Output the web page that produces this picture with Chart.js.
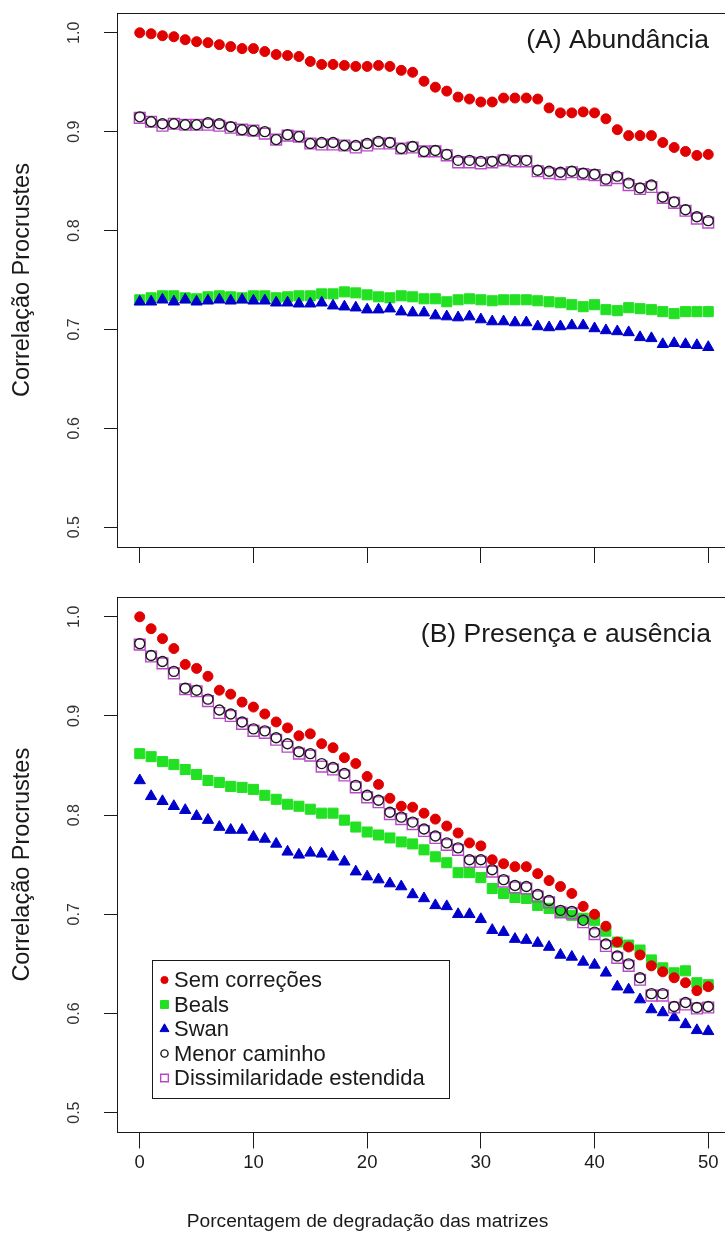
<!DOCTYPE html>
<html>
<head>
<meta charset="utf-8">
<script src="https://cdn.jsdelivr.net/npm/chart.js@4.4.1/dist/chart.umd.min.js"></script>
<style>
  html, body { margin: 0; padding: 0; background: #fff; overflow: hidden; width: 725px; height: 1241px; }
  #wrap { position: relative; width: 725px; height: 1241px; overflow: hidden; }
  #cA { position: absolute; left: 0; top: 0; }
  #cB { position: absolute; left: 0; top: 580px; }
</style>
</head>
<body>
<div id="wrap">
  <canvas id="cA" width="740" height="580"></canvas>
  <canvas id="cB" width="740" height="661"></canvas>
</div>
<script>
// Percentage of degradation applied to the matrices (x axis)
const degradacao = [0, 1, 2, 3, 4, 5, 6, 7, 8, 9, 10, 11, 12, 13, 14, 15, 16, 17, 18, 19, 20,
  21, 22, 23, 24, 25, 26, 27, 28, 29, 30, 31, 32, 33, 34, 35, 36, 37, 38, 39, 40,
  41, 42, 43, 44, 45, 46, 47, 48, 49, 50];

const xTicks = [0, 10, 20, 30, 40, 50];
const yTicks = [0.5, 0.6, 0.7, 0.8, 0.9, 1.0];

const seriesNames = ['Sem correções', 'Beals', 'Swan', 'Menor caminho', 'Dissimilaridade estendida'];

// (A) Abundance data
const abundSem = [1.000, 0.999, 0.997, 0.996, 0.993, 0.991, 0.990, 0.988, 0.986, 0.984,
  0.984, 0.981, 0.978, 0.977, 0.976, 0.971, 0.968, 0.968, 0.967, 0.966,
  0.966, 0.967, 0.966, 0.962, 0.960, 0.951, 0.945, 0.941, 0.935, 0.933,
  0.930, 0.930, 0.934, 0.934, 0.934, 0.933, 0.924, 0.919, 0.919, 0.920,
  0.919, 0.913, 0.902, 0.896, 0.896, 0.896, 0.889, 0.884, 0.880, 0.876, 0.877];
const abundBeals = [0.730, 0.732, 0.734, 0.734, 0.732, 0.731, 0.733, 0.734, 0.733, 0.732,
  0.734, 0.734, 0.732, 0.733, 0.734, 0.734, 0.736, 0.736, 0.738, 0.737,
  0.735, 0.733, 0.732, 0.734, 0.733, 0.731, 0.731, 0.728, 0.730, 0.731,
  0.730, 0.729, 0.730, 0.730, 0.730, 0.729, 0.728, 0.727, 0.725, 0.723,
  0.725, 0.720, 0.719, 0.722, 0.721, 0.720, 0.718, 0.716, 0.718, 0.718, 0.718];
const abundSwan = [0.728, 0.728, 0.730, 0.728, 0.730, 0.728, 0.729, 0.730, 0.729, 0.730,
  0.729, 0.729, 0.727, 0.727, 0.726, 0.726, 0.727, 0.724, 0.723, 0.722,
  0.720, 0.720, 0.721, 0.718, 0.717, 0.717, 0.714, 0.713, 0.712, 0.713,
  0.710, 0.708, 0.708, 0.707, 0.707, 0.703, 0.702, 0.703, 0.704, 0.704,
  0.701, 0.699, 0.698, 0.697, 0.692, 0.691, 0.685, 0.686, 0.685, 0.684, 0.682];
const abundMenor = [0.915, 0.910, 0.908, 0.908, 0.907, 0.907, 0.909, 0.908, 0.905, 0.902,
  0.901, 0.900, 0.892, 0.897, 0.895, 0.888, 0.889, 0.889, 0.886, 0.886,
  0.888, 0.890, 0.889, 0.883, 0.885, 0.880, 0.881, 0.877, 0.871, 0.871,
  0.870, 0.870, 0.872, 0.871, 0.871, 0.861, 0.860, 0.859, 0.860, 0.858,
  0.857, 0.852, 0.855, 0.848, 0.843, 0.846, 0.834, 0.829, 0.821, 0.814, 0.810];
const abundDiss = [0.914, 0.910, 0.906, 0.908, 0.907, 0.907, 0.907, 0.906, 0.904, 0.902,
  0.901, 0.898, 0.892, 0.896, 0.895, 0.888, 0.887, 0.887, 0.886, 0.884,
  0.886, 0.888, 0.888, 0.883, 0.884, 0.880, 0.880, 0.876, 0.869, 0.869,
  0.868, 0.869, 0.871, 0.870, 0.870, 0.860, 0.858, 0.857, 0.859, 0.857,
  0.856, 0.851, 0.853, 0.846, 0.842, 0.844, 0.833, 0.828, 0.820, 0.812, 0.808];

// (B) Presence/absence data
const paSem = [1.000, 0.988, 0.978, 0.968, 0.952, 0.948, 0.940, 0.926, 0.922, 0.914,
  0.909, 0.902, 0.894, 0.888, 0.880, 0.882, 0.872, 0.868, 0.858, 0.852,
  0.839, 0.831, 0.817, 0.809, 0.808, 0.802, 0.796, 0.789, 0.782, 0.772,
  0.769, 0.755, 0.751, 0.748, 0.748, 0.741, 0.734, 0.728, 0.721, 0.708,
  0.700, 0.688, 0.672, 0.667, 0.659, 0.648, 0.642, 0.636, 0.631, 0.623, 0.627];
const paBeals = [0.862, 0.859, 0.854, 0.851, 0.846, 0.841, 0.835, 0.833, 0.829, 0.828,
  0.826, 0.820, 0.816, 0.811, 0.809, 0.806, 0.802, 0.802, 0.795, 0.788,
  0.783, 0.780, 0.777, 0.773, 0.771, 0.765, 0.758, 0.752, 0.742, 0.742,
  0.737, 0.726, 0.721, 0.717, 0.716, 0.709, 0.706, 0.702, 0.699, 0.696,
  0.694, 0.683, 0.672, 0.669, 0.664, 0.654, 0.646, 0.641, 0.643, 0.631, 0.629];
const paSwan = [0.835, 0.819, 0.814, 0.809, 0.805, 0.799, 0.795, 0.788, 0.785, 0.785,
  0.778, 0.776, 0.771, 0.763, 0.760, 0.762, 0.761, 0.758, 0.753, 0.743,
  0.738, 0.735, 0.731, 0.728, 0.720, 0.716, 0.709, 0.708, 0.700, 0.700,
  0.695, 0.684, 0.682, 0.675, 0.674, 0.671, 0.667, 0.659, 0.657, 0.652,
  0.649, 0.641, 0.627, 0.624, 0.614, 0.604, 0.601, 0.596, 0.589, 0.583, 0.582];
const paMenor = [0.973, 0.961, 0.955, 0.945, 0.928, 0.926, 0.917, 0.906, 0.902, 0.894,
  0.887, 0.885, 0.878, 0.872, 0.864, 0.862, 0.852, 0.848, 0.842, 0.830,
  0.820, 0.815, 0.803, 0.798, 0.793, 0.786, 0.779, 0.772, 0.767, 0.755,
  0.755, 0.745, 0.735, 0.729, 0.728, 0.720, 0.714, 0.704, 0.703, 0.694,
  0.682, 0.670, 0.658, 0.650, 0.636, 0.620, 0.620, 0.607, 0.611, 0.606, 0.607];
const paDiss = [0.972, 0.960, 0.953, 0.943, 0.927, 0.925, 0.915, 0.903, 0.900, 0.892,
  0.885, 0.883, 0.876, 0.869, 0.862, 0.860, 0.849, 0.846, 0.840, 0.828,
  0.818, 0.813, 0.801, 0.796, 0.791, 0.784, 0.777, 0.770, 0.765, 0.753,
  0.753, 0.743, 0.733, 0.727, 0.726, 0.718, 0.712, 0.702, 0.701, 0.692,
  0.680, 0.668, 0.656, 0.648, 0.634, 0.618, 0.618, 0.606, 0.609, 0.605, 0.606];

const FONT = "'Liberation Sans', Arial, Helvetica, sans-serif";
const INK = '#1a1a1a';
Chart.defaults.font.family = FONT;

// Marker style for each method (plot size and a smaller legend size)
const markerStyles = [
  { pointStyle: 'circle',   pointRadius: 5,   legendRadius: 3.6, fill: '#e00000',          stroke: '#e00000', width: 1,   order: 0 },
  { pointStyle: 'rect',     pointRadius: 7.1, legendRadius: 5.6, fill: '#22e022',          stroke: '#22e022', width: 1,   order: 4 },
  { pointStyle: 'triangle', pointRadius: 6.5, legendRadius: 5.2, fill: '#0000cc',          stroke: '#0000cc', width: 1,   order: 3 },
  { pointStyle: 'circle',   pointRadius: 5,   legendRadius: 3.6, fill: 'rgba(0,0,0,0)',    stroke: '#1a1a1a', width: 1.4, order: 1 },
  { pointStyle: 'rect',     pointRadius: 7.6, legendRadius: 5.4, fill: 'rgba(0,0,0,0)',    stroke: '#b848c8', width: 1.4, order: 2 }
];

function makeDatasets(valueLists) {
  return valueLists.map((values, k) => {
    const st = markerStyles[k];
    return {
      label: seriesNames[k],
      data: degradacao.map((x, i) => ({ x: x, y: values[i] })),
      showLine: false,
      order: st.order,
      pointStyle: st.pointStyle,
      pointRadius: st.pointRadius,
      pointHoverRadius: st.pointRadius,
      pointBackgroundColor: st.fill,
      pointBorderColor: st.stroke,
      pointBorderWidth: st.width,
      backgroundColor: st.fill,
      borderColor: st.stroke,
      legendRadius: st.legendRadius
    };
  });
}

// Box around the plotting region
const framePlugin = {
  id: 'frame',
  afterDraw(chart) {
    const { ctx, chartArea: a } = chart;
    ctx.save();
    ctx.strokeStyle = INK;
    ctx.lineWidth = 1;
    ctx.strokeRect(Math.round(a.left) + 0.5, Math.round(a.top) + 0.5,
      Math.round(a.right - a.left), Math.round(a.bottom - a.top));
    ctx.restore();
  }
};

function panelLabel(text, dx, dy) {
  return {
    id: 'panelLabel',
    afterDraw(chart) {
      const { ctx, chartArea: a } = chart;
      ctx.save();
      ctx.font = '26.5px ' + FONT;
      ctx.fillStyle = INK;
      ctx.textAlign = 'right';
      ctx.textBaseline = 'middle';
      ctx.fillText(text, a.right + dx, a.top + dy);
      ctx.restore();
    }
  };
}

// Boxed legend inside the lower-left of the plotting region
const boxLegend = {
  id: 'boxLegend',
  afterDraw(chart) {
    const { ctx, chartArea: a } = chart;
    const left = Math.round(a.left + 35), bottom = Math.round(a.bottom - 34.5);
    const w = 297, h = 138, top = bottom - h;
    ctx.save();
    ctx.strokeStyle = INK;
    ctx.lineWidth = 1;
    ctx.strokeRect(left + 0.5, top + 0.5, w, h);
    ctx.font = '22px ' + FONT;
    ctx.textBaseline = 'middle';
    ctx.textAlign = 'left';
    chart.data.datasets.forEach((ds, i) => {
      const y = top + 20 + i * 24.5;
      ctx.fillStyle = ds.pointBackgroundColor;
      ctx.strokeStyle = ds.pointBorderColor;
      ctx.lineWidth = ds.pointBorderWidth;
      Chart.helpers.drawPoint(ctx, {
        pointStyle: ds.pointStyle, rotation: 0,
        radius: ds.legendRadius, borderWidth: ds.pointBorderWidth
      }, left + 12.5, y);
      ctx.fillStyle = INK;
      ctx.fillText(ds.label, left + 22, y + 1);
    });
    ctx.restore();
  }
};

function noEdgePadding(s) {
  s.paddingTop = 0; s.paddingBottom = 0; s.paddingLeft = 0; s.paddingRight = 0;
}

function scales(opts) {
  return {
    x: {
      type: 'linear', min: -2, max: 52,
      afterBuildTicks: s => { s.ticks = xTicks.map(v => ({ value: v })); },
      afterFit: s => { s.height = opts.xHeight; noEdgePadding(s); },
      grid: { drawOnChartArea: false, drawTicks: true, tickLength: 16, color: INK, lineWidth: 1 },
      border: { display: false },
      ticks: {
        display: opts.xLabels, autoSkip: false, minRotation: 0, maxRotation: 0,
        padding: 3.5, color: INK, font: { family: FONT, size: 18.5 }
      }
    },
    y: {
      type: 'linear', min: 0.48, max: 1.02,
      afterBuildTicks: s => { s.ticks = yTicks.map(v => ({ value: v })); },
      afterFit: s => { s.width = 117; noEdgePadding(s); },
      grid: { drawOnChartArea: false, drawTicks: true, tickLength: 13, color: INK, lineWidth: 1 },
      border: { display: false },
      ticks: {
        autoSkip: false, minRotation: 90, maxRotation: 90, crossAlign: 'center',
        padding: 18, color: '#333', font: { family: FONT, size: 16 },
        callback: v => Number(v).toFixed(1)
      },
      title: {
        display: true, text: 'Correlação Procrustes', color: INK,
        font: { family: FONT, size: 23.5 }, padding: { top: 8, bottom: 0 }
      }
    }
  };
}

const common = {
  responsive: false,
  animation: false,
  events: [],
  plugins: { legend: { display: false }, tooltip: { enabled: false } }
};

new Chart(document.getElementById('cA'), {
  type: 'scatter',
  data: { datasets: makeDatasets([abundSem, abundBeals, abundSwan, abundMenor, abundDiss]) },
  options: Object.assign({}, common, {
    layout: { padding: { top: 13, right: 5, bottom: 0, left: 0 } },
    scales: scales({ xLabels: false, xHeight: 33 })
  }),
  plugins: [framePlugin, panelLabel('(A) Abundância', -22, 28)]
});

new Chart(document.getElementById('cB'), {
  type: 'scatter',
  data: { datasets: makeDatasets([paSem, paBeals, paSwan, paMenor, paDiss]) },
  options: Object.assign({}, common, {
    layout: { padding: { top: 17, right: 5, bottom: 0, left: 0 } },
    scales: scales({ xLabels: true, xHeight: 68 }),
    plugins: {
      legend: { display: false },
      tooltip: { enabled: false },
      title: {
        display: true, position: 'bottom', align: 'center',
        text: 'Porcentagem de degradação das matrizes', color: INK,
        font: { family: FONT, size: 19.2, weight: 'normal', lineHeight: 1.2 },
        padding: { top: 10, bottom: 7.5 }
      }
    }
  }),
  plugins: [framePlugin, panelLabel('(B) Presença e ausência', -20, 38), boxLegend]
});
</script>
</body>
</html>
